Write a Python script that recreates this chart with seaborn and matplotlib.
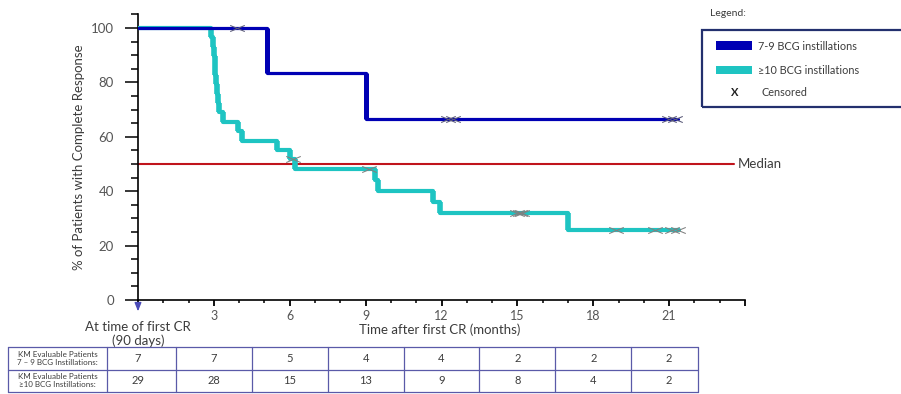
import numpy as np
import pandas as pd
import matplotlib
matplotlib.use("Agg")
import matplotlib.pyplot as plt
import seaborn as sns
from matplotlib.path import Path
from matplotlib.patches import Rectangle

# Kaplan-Meier step curves (% still in complete response), months after first CR
months_79 = [0, 5.1, 9.0, 21.35]
surv_79 = [100, 83.3, 66.7, 66.7]
censor_79 = [3.9, 12.25, 12.45, 21.0, 21.25]

months_10 = [0, 2.90, 2.95, 3.00, 3.03, 3.06, 3.10, 3.13, 3.16, 3.19, 3.37,
             3.97, 4.10, 5.50, 6.00, 6.20, 9.37, 9.50, 11.67, 11.95, 17.00, 21.4]
surv_10 = [100, 96.6, 93.1, 89.7, 86.2, 82.8, 79.3, 75.9, 72.4, 69.0, 65.5,
           62.1, 58.6, 55.2, 51.7, 48.0, 44.0, 40.0, 36.0, 32.0, 25.6, 25.6]
censor_10 = [6.12, 9.15, 15.0, 15.1, 15.2, 18.9, 20.45, 21.1, 21.35]

median_level = 50

# Number-at-risk table
risk_times = [0, 3, 6, 9, 12, 15, 18, 21]
at_risk_79 = [7, 7, 5, 4, 4, 2, 2, 2]
at_risk_10 = [29, 28, 15, 13, 9, 8, 4, 2]
row_labels = ["KM Evaluable Patients\n7 \u2013 9 BCG Instillations:",
              "KM Evaluable Patients\n\u226510 BCG Instillations:"]

series_names = ["7-9 BCG instillations", "\u226510 BCG instillations"]

BLUE = "#0000b4"
TEAL = "#1ec4c2"
RED = "#c0141c"
NAVY = "#23306e"
GRID_PURPLE = "#5a5aa8"
TXT = "#3c3c3c"

sns.set_style("ticks")
plt.rcParams["font.family"] = ["Lato", "DejaVu Sans"]

W, H = 901, 394
fig = plt.figure(figsize=(W / 100, H / 100), dpi=100)


def fx(px):
    return px / W


def fy(py):
    return 1 - py / H


# main survival axes: x 0-24 months spans px 138..745, y 0..105.3 spans px 300..13.6
ax = fig.add_axes([fx(138), fy(300), fx(745) - fx(138), fy(13.6) - fy(300)])
ax.set_xlim(0, 24)
ax.set_ylim(0, 105.3)

df79 = pd.DataFrame({"month": months_79, "pct": surv_79})
df10 = pd.DataFrame({"month": months_10, "pct": surv_10})

sns.lineplot(data=df79, x="month", y="pct", drawstyle="steps-post", color=BLUE,
             lw=2.3, ax=ax, estimator=None, sort=False, zorder=4)
sns.lineplot(data=df10, x="month", y="pct", drawstyle="steps-post", color=TEAL,
             lw=3.0, ax=ax, estimator=None, sort=False, zorder=3)

# thicker vertical drops of each step curve
for m, s, c, z, w in [(months_79, surv_79, BLUE, 4, 3.6),
                      (months_10, surv_10, TEAL, 3, 4.0)]:
    xs = np.array(m[1:-1])
    hi = np.array(s[:-2])
    lo = np.array(s[1:-1])
    ax.vlines(xs, lo, hi, colors=c, lw=w, zorder=z)

# censor marks (wide x)
xmark = Path([(-1, -0.42), (1, 0.42), (-1, 0.42), (1, -0.42)],
             [Path.MOVETO, Path.LINETO, Path.MOVETO, Path.LINETO])


def step_value(times, vals, t):
    idx = np.searchsorted(times, t, side="right") - 1
    return vals[idx]


for m, s, cens, col in [(months_79, surv_79, censor_79, "#5a5a78"),
                        (months_10, surv_10, censor_10, "#808080")]:
    ys = [step_value(m, s, t) for t in cens]
    ax.plot(cens, ys, linestyle="none", marker=xmark, ms=10.5, mew=0.75,
            color=col, zorder=6)

# median reference line
ax.plot([0, 23.57], [median_level, median_level], color=RED, lw=1.5, zorder=2,
        clip_on=False)
ax.text(23.7, median_level, "Median", ha="left", va="center", fontsize=9.5,
        color=TXT)

# axes styling
sns.despine(ax=ax)
for sp in ["left", "bottom"]:
    ax.spines[sp].set_color("black")
    ax.spines[sp].set_linewidth(1.2)

ax.set_xticks(np.arange(0, 25, 3))
ax.set_xticklabels([""] + [str(v) for v in range(3, 22, 3)] + [""])
ax.set_xticks(np.arange(0, 25, 1), minor=True)
ax.set_yticks(np.arange(0, 101, 20))
ax.set_yticks(np.arange(0, 106, 5), minor=True)
ax.tick_params(axis="y", which="major", length=9.4, width=1.1, color="black",
               labelsize=9.5, labelcolor="#555555", pad=8)
ax.tick_params(axis="y", which="minor", length=5, width=1.1, color="black")
ax.tick_params(axis="x", which="major", length=4, width=1.3, color="black",
               labelsize=9, labelcolor="#555555", pad=3)
ax.tick_params(axis="x", which="minor", length=2.5, width=1.1, color="black")
ax.set_xlabel("")
ax.set_ylabel("% of Patients with Complete Response", fontsize=9.5, color=TXT,
              labelpad=4)
ax.patch.set_alpha(0)

# arrow marking the start point
ax.annotate("", xy=(0, -5.2), xytext=(0, -0.8), xycoords="data",
            arrowprops=dict(arrowstyle="-|>,head_length=0.5,head_width=0.2",
                            color="#4b4bb8", lw=1.0), annotation_clip=False)

fig.text(fx(138), fy(327), "At time of first CR", ha="center", va="center",
         fontsize=9.5, color=TXT)
fig.text(fx(138), fy(341), "(90 days)", ha="center", va="center",
         fontsize=9.5, color=TXT)
fig.text(fx(440), fy(330), "Time after first CR (months)", ha="center",
         va="center", fontsize=9.5, color=TXT)

# number-at-risk table aligned with the month scale
px_per_month = (745 - 138) / 24
tx0 = -(138 - 8) / px_per_month
tx1 = (698 - 138) / px_per_month
tab = fig.add_axes([fx(8), fy(392), fx(698) - fx(8), fy(347) - fy(392)])
tab.set_xlim(tx0, tx1)
tab.set_ylim(0, 2)
tab.axis("off")
label_edge = -(138 - 107) / px_per_month
borders = [tx0, label_edge] + [t + 1.5 for t in risk_times[:-1]] + [tx1]
for b in borders:
    tab.plot([b, b], [0, 2], color=GRID_PURPLE, lw=0.9, clip_on=False)
for yv in [0, 1, 2]:
    tab.plot([tx0, tx1], [yv, yv], color=GRID_PURPLE, lw=0.9, clip_on=False)
label_center = (tx0 + label_edge) / 2
for row, (lab, vals) in enumerate(zip(row_labels, [at_risk_79, at_risk_10])):
    yc = 1.5 - row
    tab.text(label_center, yc, lab, ha="center", va="center", fontsize=5.8,
             color=TXT, linespacing=1.1)
    for t, v in zip(risk_times, vals):
        tab.text(t, yc, str(v), ha="center", va="center", fontsize=8,
                 color=TXT)

# legend box
fig.text(fx(710), fy(14), "Legend:", ha="left", va="center", fontsize=7.5,
         color=TXT)
fig.patches.append(Rectangle((fx(702), fy(107)), fx(912) - fx(702),
                             fy(30) - fy(107), transform=fig.transFigure,
                             fill=False, ec=NAVY, lw=1.6))
fig.patches.append(Rectangle((fx(716), fy(50)), fx(36), fy(41) - fy(50),
                             transform=fig.transFigure, color=BLUE, lw=0))
fig.patches.append(Rectangle((fx(716), fy(74)), fx(36), fy(66) - fy(74),
                             transform=fig.transFigure, color=TEAL, lw=0))
fig.text(fx(758), fy(46), series_names[0], ha="left", va="center",
         fontsize=7.8, color=TXT)
fig.text(fx(758), fy(70), series_names[1], ha="left", va="center",
         fontsize=7.8, color=TXT)
fig.text(fx(735), fy(92), "X", ha="center", va="center", fontsize=8,
         fontweight="bold", color="#202020")
fig.text(fx(761), fy(92), "Censored", ha="left", va="center", fontsize=7.8,
         color=TXT)

fig.savefig("out.png", dpi=100)
